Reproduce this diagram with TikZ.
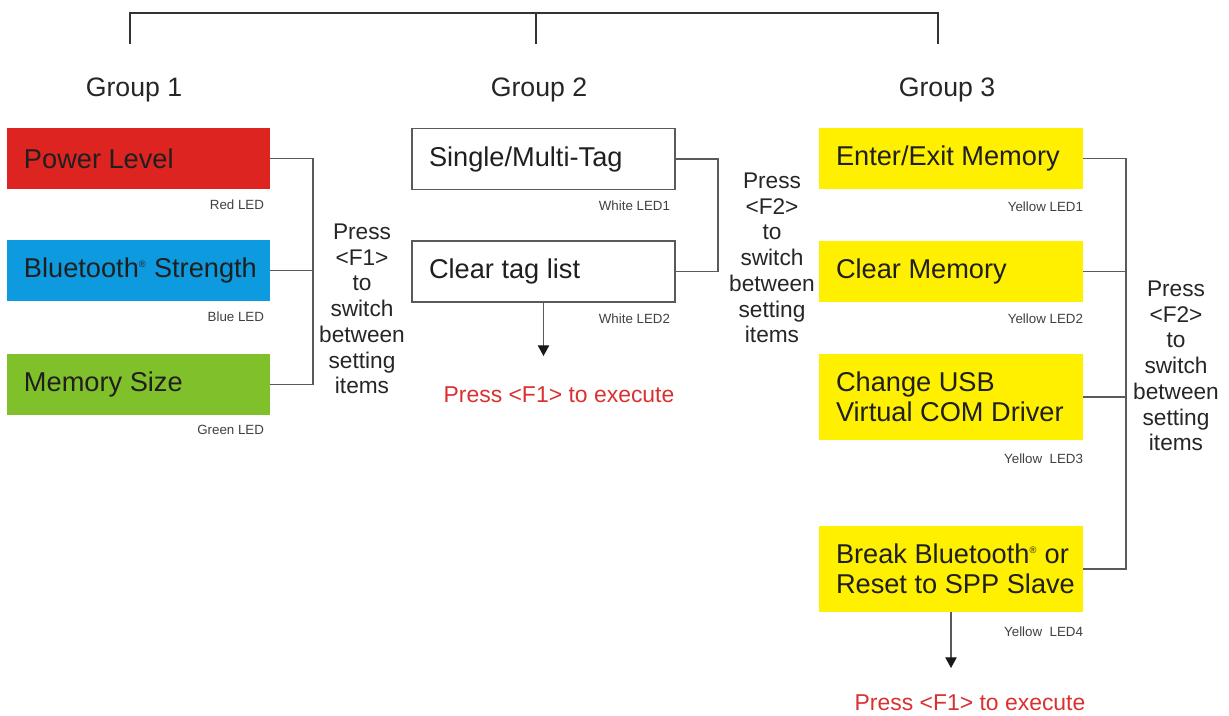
\documentclass[tikz,border=0pt]{standalone}
\usepackage{fontspec}
\setmainfont{Liberation Sans}
\usetikzlibrary{arrows.meta,calc}

\definecolor{ledred}{RGB}{221,36,32}
\definecolor{ledblue}{RGB}{14,154,222}
\definecolor{ledgreen}{RGB}{128,192,42}
\definecolor{ledyellow}{RGB}{255,240,0}
\definecolor{linegray}{RGB}{90,90,90}
\definecolor{hintred}{RGB}{218,48,48}

\newcommand{\regmark}{\textsuperscript{\fontsize{7}{7}\selectfont\textregistered}}

\tikzset{
    item/.style={minimum height=45.75pt, text width=197.25pt, inner xsep=0pt, align=left,
        execute at begin node={\leftskip=12.75pt\spaceskip=0pt\xspaceskip=0pt},
        font=\fontsize{20.4}{22.5}\selectfont, text=black!88},
    tall/.style={minimum height=64.5pt},
    led/.style={anchor=east, inner sep=0pt, font=\fontsize{10}{12}\selectfont, text=black!75},
    group/.style={font=\fontsize{20}{24}\selectfont, text=black!85},
    hint/.style={align=center, font=\fontsize{17}{19.3}\selectfont, text=black!85},
    exec/.style={font=\fontsize{17.2}{20}\selectfont, text=hintred},
    link/.style={draw=linegray, line width=0.9pt},
    trunk/.style={draw=black!80, line width=1.3pt},
    arr/.style={link, -{Triangle[length=8pt,width=8.5pt,color=black!90]}},
}

\begin{document}
\begin{tikzpicture}[x=0.75pt, y=-0.75pt]
    \useasboundingbox (0,0) rectangle (1229,715);

    % Top bracket and group titles
    \coordinate (t1) at (130,44);
    \coordinate (t2) at (536,44);
    \coordinate (t3) at (938,44);
    \coordinate (top) at (0,13);
    \draw[trunk] (t1) |- (t3 |- top) -- (t3);
    \draw[trunk] (t2) -- (t2 |- top);
    \node[group] (g1) at (134,90) {Group 1};
    \node[group] (g2) at (539,90) {Group 2};
    \node[group] (g3) at (947,90) {Group 3};

    % Group 1
    \node[item, fill=ledred] (pl) at (138.5,158.5) {Power Level};
    \node[item, fill=ledblue] (bs) at (138.5,270.5) {Bluetooth\regmark{} Strength};
    \node[item, fill=ledgreen] (ms) at (138.5,384.5) {Memory Size};
    \node[led] at ([xshift=-4.5pt,yshift=-11.25pt]pl.south east) {Red LED};
    \node[led] at ([xshift=-4.5pt,yshift=-11.25pt]bs.south east) {Blue LED};
    \node[led] at ([xshift=-4.5pt,yshift=-11.25pt]ms.south east) {Green LED};
    \coordinate (b1) at (313,0);
    \draw[link] (pl.east) -- (pl.east -| b1) -- (ms.east -| b1) -- (ms.east);
    \draw[link] (bs.east) -- (bs.east -| b1);
    \node[hint] (h1) at (362,309) {Press\\<F1>\\to\\switch\\between\\setting\\items};

    % Group 2
    \node[item, draw=linegray, line width=0.9pt] (sm) at (543.5,159) {Single/Multi-Tag};
    \node[item, draw=linegray, line width=0.9pt] (ct) at (543.5,271.5) {Clear tag list};
    \node[led] at ([xshift=-4pt,yshift=-12pt]sm.south east) {White LED1};
    \node[led] at ([xshift=-4pt,yshift=-12pt]ct.south east) {White LED2};
    \coordinate (b2) at (718,0);
    \draw[link] (sm.east) -- (sm.east -| b2) -- (ct.east -| b2) -- (ct.east);
    \node[hint] (h2) at (772,258) {Press\\<F2>\\to\\switch\\between\\setting\\items};
    \coordinate (a2) at (0,356);
    \draw[arr] (ct.south) -- (ct.south |- a2);
    \node[exec] (ex2) at (559,395) {Press <F1> to execute};

    % Group 3
    \node[item, text width=198pt, fill=ledyellow] (ee) at (951,158.5) {Enter/Exit Memory};
    \node[item, text width=198pt, fill=ledyellow] (cm) at (951,271.5) {Clear Memory};
    \node[item, tall, text width=198pt, fill=ledyellow] (cu) at (951,397) {Change USB\\Virtual COM Driver};
    \node[item, tall, text width=198pt, fill=ledyellow] (bb) at (951,569) {Break Bluetooth\regmark{} or\\Reset to SPP Slave};
    \node[led] at ([yshift=-12.75pt]ee.south east) {Yellow LED1};
    \node[led] at ([yshift=-12pt]cm.south east) {Yellow LED2};
    \node[led] at ([yshift=-13.5pt]cu.south east) {Yellow~ LED3};
    \node[led] at ([yshift=-14.25pt]bb.south east) {Yellow~ LED4};
    \coordinate (b3) at (1126,0);
    \draw[link] (ee.east) -- (ee.east -| b3) -- (bb.east -| b3) -- (bb.east);
    \draw[link] (cm.east) -- (cm.east -| b3);
    \draw[link] (cu.east) -- (cu.east -| b3);
    \node[hint] (h3) at (1176,366) {Press\\<F2>\\to\\switch\\between\\setting\\items};
    \coordinate (a3) at (0,668);
    \draw[arr] (bb.south) -- (bb.south |- a3);
    \node[exec] (ex3) at (970,703) {Press <F1> to execute};
\end{tikzpicture}
\end{document}
